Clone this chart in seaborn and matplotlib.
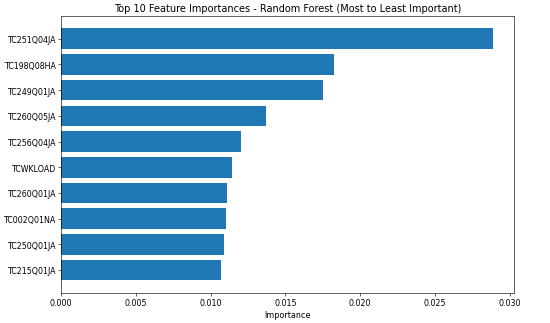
import pandas as pd
import seaborn as sns
import matplotlib.pyplot as plt

features = ["TC251Q04JA", "TC198Q08HA", "TC249Q01JA", "TC260Q05JA", "TC256Q04JA",
            "TCWKLOAD", "TC260Q01JA", "TC002Q01NA", "TC250Q01JA", "TC215Q01JA"]
importances = [0.02885, 0.01825, 0.0175, 0.0137, 0.0120,
               0.01145, 0.0111, 0.0110, 0.0109, 0.0107]

df = pd.DataFrame({"Feature": features, "Importance": importances})

fig, ax = plt.subplots(figsize=(10, 5.89), dpi=55)
fig.subplots_adjust(left=0.111, right=0.935, top=0.948, bottom=0.093)

sns.barplot(data=df, x="Importance", y="Feature", orient="h", color="#1f77b4",
            saturation=1, width=0.8, ax=ax)
ax.set_xlim(0, 0.0303)
ax.set_ylim(9.89, -0.89)
ax.set_ylabel("")
ax.set_xlabel("Importance", fontsize=10.5)
ax.tick_params(labelsize=10.3)
ax.set_title("Top 10 Feature Importances - Random Forest (Most to Least Important)",
             fontsize=12.8)

fig.savefig("out.png", dpi=55)
